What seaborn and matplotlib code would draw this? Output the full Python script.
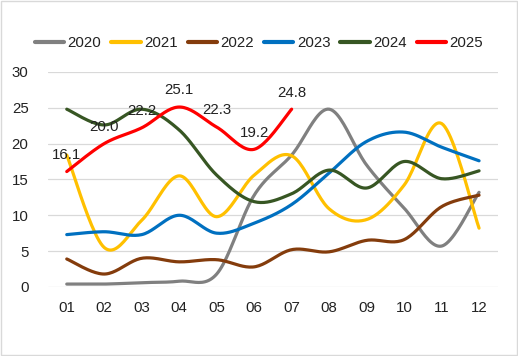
import numpy as np
import pandas as pd
import matplotlib
matplotlib.use("Agg")
import matplotlib.pyplot as plt
import seaborn as sns

# monthly values
months = ["01", "02", "03", "04", "05", "06", "07", "08", "09", "10", "11", "12"]
y2020 = [0.4, 0.4, 0.6, 0.8, 1.8, 12.8, 18.4, 24.8, 17.0, 11.0, 5.7, 13.2]
y2021 = [18.4, 5.5, 9.3, 15.5, 9.8, 15.6, 18.3, 10.9, 9.4, 14.2, 22.8, 8.2]
y2022 = [3.9, 1.8, 4.0, 3.5, 3.8, 2.8, 5.2, 4.9, 6.5, 6.6, 11.2, 12.8]
y2023 = [7.3, 7.7, 7.3, 10.0, 7.5, 8.9, 11.5, 15.9, 20.3, 21.6, 19.5, 17.6]
y2024 = [24.8, 22.6, 24.8, 21.9, 15.6, 11.9, 13.0, 16.3, 13.8, 17.5, 15.1, 16.2]
y2025 = [16.1, 20.0, 22.2, 25.1, 22.3, 19.2, 24.8]

series = {"2020": y2020, "2021": y2021, "2022": y2022,
          "2023": y2023, "2024": y2024, "2025": y2025}
colors = {"2020": "#808080", "2021": "#FFC000", "2022": "#843C0C",
          "2023": "#0070C0", "2024": "#375623", "2025": "#FF0000"}


def smooth(vals, n=24):
    # Excel-style smoothed line: Catmull-Rom segments drawn as cubic Beziers
    p = np.array([[i, v] for i, v in enumerate(vals)], dtype=float)
    ext = np.vstack([p[0], p, p[-1]])
    out = []
    t = np.linspace(0, 1, n)[:, None]
    for i in range(len(p) - 1):
        p0, p1, p2, p3 = ext[i], ext[i + 1], ext[i + 2], ext[i + 3]
        c1 = p1 + (p2 - p0) / 6
        c2 = p2 - (p3 - p1) / 6
        seg = ((1 - t) ** 3) * p1 + 3 * ((1 - t) ** 2) * t * c1 + 3 * (1 - t) * t ** 2 * c2 + t ** 3 * p2
        out.append(seg if i == 0 else seg[1:])
    return np.vstack(out)


rows = []
for name, vals in series.items():
    pts = smooth(vals)
    for k, (x, y) in enumerate(pts):
        rows.append({"year": name, "order": k, "x": x, "y": y})
df = pd.DataFrame(rows)

sns.set_style("white")
plt.rcParams["font.family"] = ["Liberation Sans", "DejaVu Sans"]
text_color = "#222222"
fs = 10.8

fig = plt.figure(figsize=(5.18, 3.56), dpi=100)
ax = fig.add_axes([0.0927, 0.194, 0.961 - 0.0927, 0.798 - 0.194])

sns.lineplot(data=df, x="x", y="y", hue="year", palette=colors,
             hue_order=list(series.keys()), sort=False, estimator=None,
             units="year", linewidth=2.3, ax=ax, legend=True)

# data labels for the current year
for i, v in enumerate(y2025):
    ax.annotate(f"{v:.1f}", (i, v), xytext=(0, 12), textcoords="offset points",
                ha="center", va="center", fontsize=fs, color=text_color)

ax.set_xlim(-0.5, len(months) - 0.5)
ax.set_ylim(0, 30)
ax.set_yticks(range(0, 31, 5))
ax.set_xticks(range(len(months)))
ax.set_xticklabels(months)
ax.set_xlabel("")
ax.set_ylabel("")
ax.tick_params(axis="both", length=0, labelsize=fs, colors=text_color)
ax.tick_params(axis="x", pad=10)
ax.tick_params(axis="y", pad=14)
ax.grid(axis="y", color="#d9d9d9", linewidth=0.9)
ax.set_axisbelow(True)
for s in ax.spines.values():
    s.set_visible(False)

handles, labels = ax.get_legend_handles_labels()
ax.legend_.remove()
for h in handles:
    h.set_linewidth(3)
fig.legend(handles, labels, loc="center", bbox_to_anchor=(0.5, 0.879), ncol=6,
           frameon=False, fontsize=fs, handlelength=1.95, handletextpad=0.25,
           columnspacing=0.65, labelcolor=text_color)

# light chart-area border
fig.patches.append(plt.Rectangle((0.002, 0.003), 0.996, 0.994, transform=fig.transFigure,
                                 fill=False, edgecolor="#d9d9d9", linewidth=1))

fig.savefig("out.png", dpi=100)
